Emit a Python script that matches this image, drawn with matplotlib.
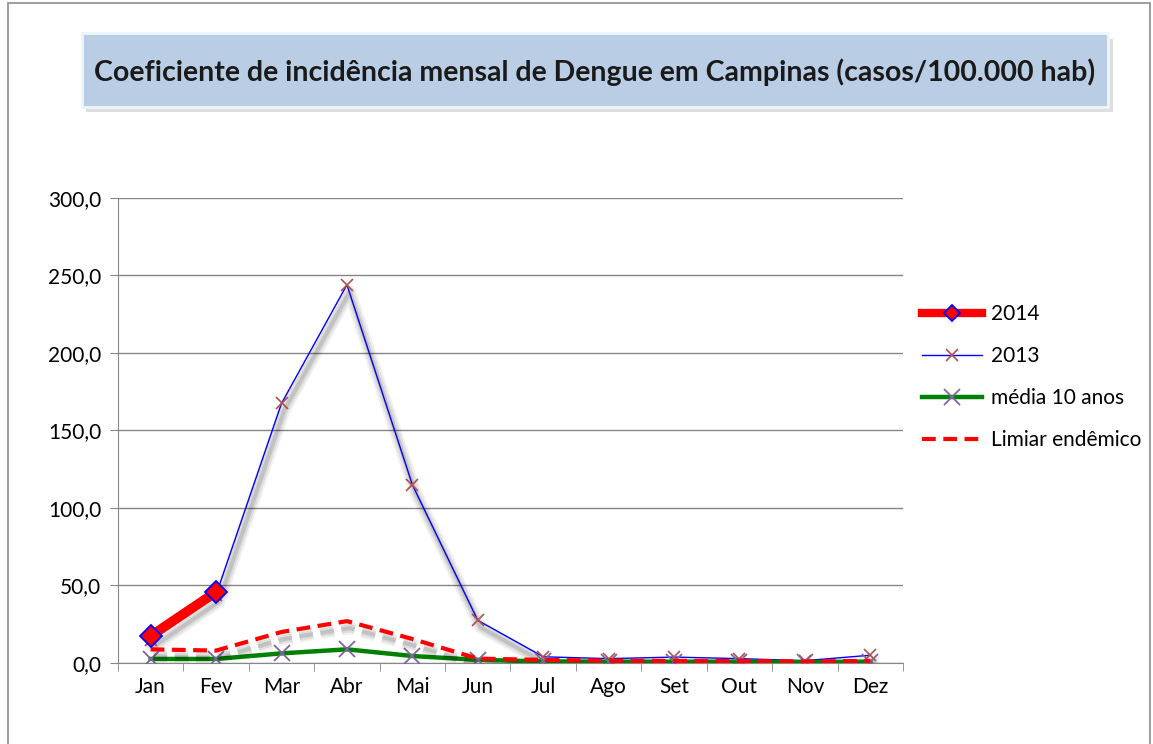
import matplotlib.pyplot as plt
import matplotlib.patheffects as pe
from matplotlib.patches import Rectangle
from matplotlib.lines import Line2D

meses = ['Jan', 'Fev', 'Mar', 'Abr', 'Mai', 'Jun', 'Jul', 'Ago', 'Set', 'Out', 'Nov', 'Dez']
ano2014 = [17.4, 45.8]
ano2013 = [15.0, 44.0, 167.5, 244.0, 115.0, 27.5, 4.0, 2.8, 3.8, 2.8, 1.5, 5.0]
media10 = [2.6, 2.6, 6.2, 8.8, 4.5, 2.0, 1.0, 0.8, 0.8, 0.8, 0.6, 0.8]
limiar = [8.8, 8.0, 20.0, 27.0, 15.5, 2.8, 2.0, 1.5, 1.3, 1.3, 1.0, 1.3]
yticks = [0, 50, 100, 150, 200, 250, 300]

plt.rcParams['font.family'] = ['Lato', 'DejaVu Sans']

fig = plt.figure(figsize=(11.53, 7.44), dpi=100)
fig.patches.append(Rectangle((0.007, -0.01), 0.99, 1.006, transform=fig.transFigure,
                             fill=False, edgecolor='#8c8c8c', linewidth=1.2))

# caixa do titulo com sombra
fig.patches.append(Rectangle((0.075, 0.850), 0.890, 0.098, transform=fig.transFigure,
                             facecolor='#c8c8c8', edgecolor='none', alpha=0.6))
fig.patches.append(Rectangle((0.071, 0.856), 0.890, 0.099, transform=fig.transFigure,
                             facecolor='#b9cde5', edgecolor='#eef6fb', linewidth=2))
fig.text(0.516, 0.903, 'Coeficiente de incidência mensal de Dengue em Campinas (casos/100.000 hab)',
         ha='center', va='center', fontsize=20.5, fontweight='bold', color='#1a1a1a')

ax = fig.add_axes([0.1023, 0.1089, 0.6809, 0.625])
x = list(range(len(meses)))
sombra = [pe.SimpleLineShadow(offset=(2, -5), shadow_color='k', alpha=0.06, linewidth=9),
          pe.SimpleLineShadow(offset=(2, -5), shadow_color='k', alpha=0.08, linewidth=6),
          pe.SimpleLineShadow(offset=(2, -5), shadow_color='k', alpha=0.12, linewidth=3),
          pe.Normal()]

ax.plot(x, ano2013, color='#0000ff', linewidth=1, zorder=3, path_effects=sombra)
ax.plot(x, ano2013, linestyle='none', marker='x', markersize=9,
        markeredgecolor='#b0504f', markeredgewidth=1.2, zorder=3)
ax.plot(x, limiar, color='#ff0000', linewidth=3, linestyle=(0, (3.3, 1.8)),
        zorder=4, path_effects=sombra)
ax.plot(x, media10, color='#008000', linewidth=3.2, marker='x', markersize=11,
        markeredgecolor='#8064a2', markeredgewidth=1.3, zorder=3)
ax.plot(x[:len(ano2014)], ano2014, color='#ff0000', linewidth=7, marker='D', markersize=11,
        markerfacecolor='#ff0000', markeredgecolor='#0000ff', markeredgewidth=1.3, zorder=5)

ax.set_xlim(-0.5, 11.5)
ax.set_ylim(0, 300)
ax.set_yticks(yticks)
ax.set_yticklabels([('%.1f' % v).replace('.', ',') for v in yticks], fontsize=15)
ax.set_xticks(x)
ax.set_xticklabels(meses, fontsize=15)
ax.set_xticks([i - 0.5 for i in range(13)], minor=True)
ax.tick_params(axis='x', which='major', length=0, pad=10)
ax.tick_params(axis='x', which='minor', length=6, color='#868686')
ax.tick_params(axis='y', length=6, color='#868686', pad=6)
ax.grid(axis='y', color='#868686', linewidth=1)
ax.set_axisbelow(True)
for s in ['top', 'right']:
    ax.spines[s].set_visible(False)
for s in ['left', 'bottom']:
    ax.spines[s].set_color('#868686')

handles = [
    Line2D([], [], color='#ff0000', linewidth=6, marker='D', markersize=8,
           markerfacecolor='#ff0000', markeredgecolor='#0000ff', markeredgewidth=1.3),
    Line2D([], [], color='#0000ff', linewidth=1, marker='x', markersize=9,
           markeredgecolor='#b0504f', markeredgewidth=1.2),
    Line2D([], [], color='#008000', linewidth=3.2, marker='x', markersize=11,
           markeredgecolor='#8064a2', markeredgewidth=1.3),
    Line2D([], [], color='#ff0000', linewidth=3, linestyle=(0, (3.3, 1.8))),
]
labels = ['2014', '2013', 'média 10 anos', 'Limiar endêmico']
ax.legend(handles, labels, loc='center left', bbox_to_anchor=(1.0, 0.615), frameon=False,
          fontsize=15, labelspacing=1.05, handlelength=2.9, handletextpad=0.4, numpoints=1)

fig.savefig('out.png', dpi=100)
